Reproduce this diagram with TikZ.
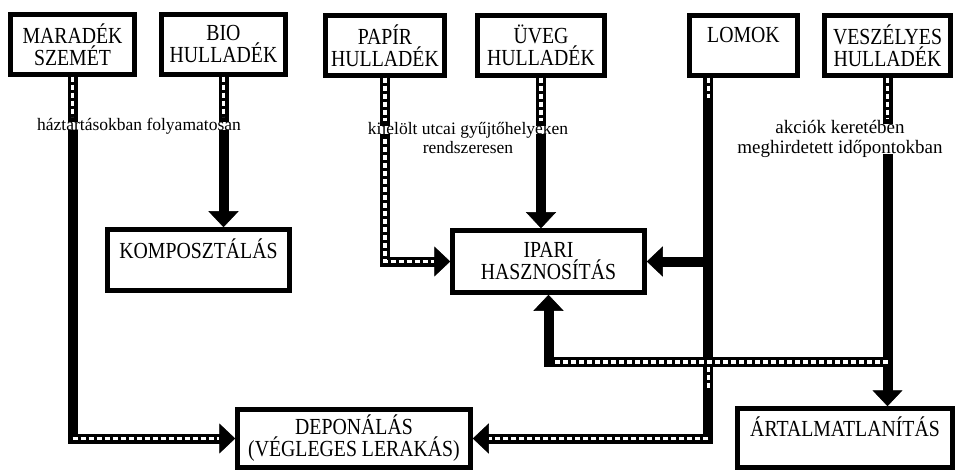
\documentclass[tikz,border=0pt]{standalone}
\usepackage{fontspec}
\setmainfont{Liberation Serif}
\newfontfamily\boxfont[FakeStretch=0.86]{Liberation Serif}
\usetikzlibrary{arrows.meta,calc}
\begin{document}
\begin{tikzpicture}[x=1pt,y=-1pt,
  box/.style={draw, line width=4.5pt, inner sep=0pt, align=center, font=\boxfont\fontsize{23}{22}\selectfont},
  lab/.style={fill=white, inner sep=1pt, align=center, font=\fontsize{17.5}{19}\selectfont},
  solidln/.style={line width=10pt, line cap=rect, line join=miter},
  hatchln/.style={line width=10pt, line cap=rect, line join=miter,
     postaction={draw=white, line width=3.5pt, line cap=butt, dash pattern=on 5pt off 3pt, arrows=-, shorten >=#1}},
  hatchln/.default=0pt,
  hatchover/.style={draw=white, line width=3.5pt, line cap=butt, dash pattern=on 5pt off 3pt},
  arr/.style={-{Triangle[width=30pt,length=16pt,line width=0.5pt]}}
]
\useasboundingbox (0,0) rectangle (958,473);
\fill[white] (0,0) rectangle (958,473);

% boxes
\node[box, minimum width=124pt, minimum height=60pt] (mar) at (72.5,44.5) {MARADÉK\\SZEMÉT};
\node[box, minimum width=124pt, minimum height=60pt] (bio) at (223.5,44.5) {BIO\\HULLADÉK};
\node[box, minimum width=119pt, minimum height=60pt] (pap) at (385,45.5) {PAPÍR\\HULLADÉK};
\node[box, minimum width=127pt, minimum height=60pt] (uveg) at (541,45.5) {ÜVEG\\HULLADÉK};
\node[box, minimum width=108pt, minimum height=60pt] (lom) at (743.5,45.5) {LOMOK\\\phantom{H}};
\node[box, minimum width=126pt, minimum height=60pt] (vesz) at (887.5,45.5) {VESZÉLYES\\HULLADÉK};
\node[box, minimum width=182pt, minimum height=61pt] (komp) at (198.5,260) {KOMPOSZTÁLÁS\\\phantom{H}};
\node[box, minimum width=192pt, minimum height=62pt] (ipari) at (548.5,261.5) {IPARI\\HASZNOSÍTÁS};
\node[box, minimum width=233pt, minimum height=58pt] (dep) at (354,438.5) {DEPONÁLÁS\\(VÉGLEGES LERAKÁS)};
\node[box, minimum width=215pt, minimum height=59pt] (art) at (845,438) {ÁRTALMATLANÍTÁS\\\phantom{H}};

% labels
\node[lab] (lab1) at (139,126) {háztartásokban folyamatosan};
\node[lab] (lab2a) at (468,130) {kijelölt utcai gyűjtőhelyeken};
\node[lab, fill=none] (lab2b) at (468,148) {rendszeresen};
\node[lab, font=\fontsize{19}{20}\selectfont] (lab3) at (840,139) {akciók keretében\\meghirdetett időpontokban};

\coordinate (lt) at ($(lom.south west)+(21,0)$);
\coordinate (hy) at (0,362);

% MARADÉK
\draw[hatchln] (mar.south) -- (mar.south |- lab1.north);
\draw[solidln] (mar.south |- lab1.south) -- (mar.south |- dep.west);
\draw[hatchln=16pt, arr] (mar.south |- dep.west) -- (dep.west);

% BIO
\draw[hatchln] (bio.south) -- (bio.south |- lab1.north);
\draw[solidln, arr] (bio.south |- lab1.south) -- (bio.south |- komp.north);

% PAPIR
\draw[hatchln] (pap.south) -- (pap.south |- lab2a.north);
\draw[hatchln=16pt, arr] (pap.south |- lab2a.south) -- (pap.south |- ipari.west) -- (ipari.west);

% UVEG
\draw[hatchln] (uveg.south) -- (uveg.south |- lab2a.north);
\draw[solidln, arr] (uveg.south |- lab2a.south) -- (uveg.south |- ipari.north);

% LOMOK
\draw[solidln] (lt) -- (lt |- dep.east);
\draw[hatchover] (lt) -- ($(lt)+(0,20)$);
\draw[hatchover] ($(lt |- hy)+(0,5)$) -- ($(lt |- hy)+(0,26)$);
\draw[solidln, arr] (lt |- ipari.east) -- (ipari.east);
\draw[hatchln=16pt, arr] (lt |- dep.east) -- (dep.east);

% VESZELYES
\draw[hatchln] (vesz.south) -- (vesz.south |- lab3.north);
\draw[solidln, arr] (vesz.south |- lab3.south) -- (vesz.south |- art.north);
\draw[hatchln] (vesz.south |- hy) -- (ipari.south |- hy);
\draw[solidln, arr] (ipari.south |- hy) -- (ipari.south);
\end{tikzpicture}
\end{document}
